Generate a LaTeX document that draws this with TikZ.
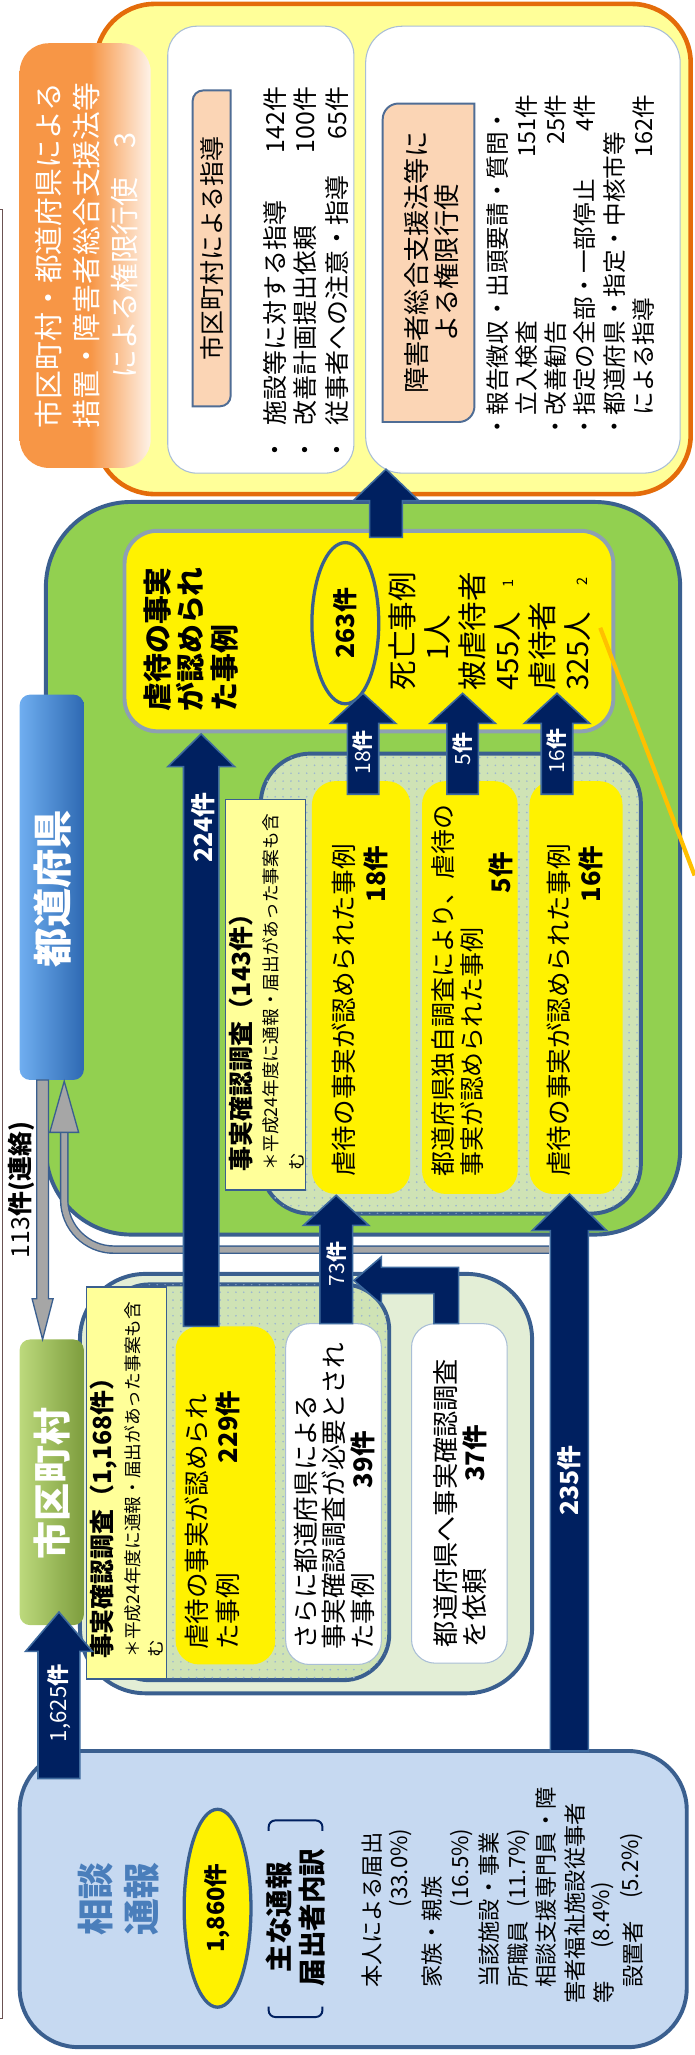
\documentclass[tikz,border=0pt]{standalone}
\usepackage{fontspec}
\setmainfont{Noto Sans CJK JP}
\usetikzlibrary{calc,shapes.geometric,patterns}

\definecolor{navy}{HTML}{002060}
\definecolor{navyedge}{HTML}{3E6A9E}
\definecolor{boxedge}{HTML}{3A5F8F}
\definecolor{caseedge}{HTML}{8DA0B3}
\definecolor{grass}{HTML}{92D050}
\definecolor{paleyel}{HTML}{FFFF99}
\definecolor{sheetgreen}{HTML}{CFE3B5}
\definecolor{dotblue}{HTML}{9CB6CF}
\definecolor{palegreen}{HTML}{E3EED6}
\definecolor{skyfill}{HTML}{C6D9F1}
\definecolor{ttlorange}{HTML}{F79646}
\definecolor{rimorange}{HTML}{E46C0A}
\definecolor{tagpeach}{HTML}{FBD5B5}
\definecolor{tagedge}{HTML}{4F6D95}
\definecolor{softedge}{HTML}{A9BED6}
\definecolor{headblue}{HTML}{4A7EBB}
\definecolor{greyfill}{HTML}{A6A6A6}
\definecolor{amber}{HTML}{FFC000}
\definecolor{framebrown}{HTML}{6B5252}
\definecolor{prefL}{HTML}{6FAEF0}
\definecolor{prefR}{HTML}{2E69B2}
\definecolor{muniL}{HTML}{BCD97C}
\definecolor{muniR}{HTML}{7D9D3D}

\pgfdeclarehorizontalshading{titlefade}{100bp}{color(0bp)=(ttlorange); color(25bp)=(ttlorange); color(52bp)=(ttlorange); color(75bp)=(ttlorange!12!white); color(100bp)=(ttlorange!12!white)}
\pgfdeclarehorizontalshading{prefbarfade}{100bp}{color(0bp)=(prefL); color(25bp)=(prefL); color(75bp)=(prefR); color(100bp)=(prefR)}
\pgfdeclarehorizontalshading{munibarfade}{100bp}{color(0bp)=(muniL); color(25bp)=(muniL); color(75bp)=(muniR); color(100bp)=(muniR)}
\pgfdeclarepatternformonly{sheetdots}{\pgfqpoint{-1pt}{-1pt}}{\pgfqpoint{1pt}{1pt}}{\pgfqpoint{6pt}{6pt}}{\pgfpathcircle{\pgfqpoint{0pt}{0pt}}{0.7pt}\pgfusepath{fill}}

\newcommand{\fz}[2]{\fontsize{#1}{#2}\selectfont}
% block arrow: style, from, to (tip), shaft half, head half, head length
\newcommand{\blockarrow}[6]{%
\draw[#1] let \p1=(#2), \p2=(#3), \p3=($(#3)!#6pt!(#2)$) in
 (\x1-#4pt,\y1) -- (\x1-#4pt,\y3) -- (\x1-#5pt,\y3) -- (\x2,\y2)
 -- (\x1+#5pt,\y3) -- (\x1+#4pt,\y3) -- (\x1+#4pt,\y1) -- cycle;}

\begin{document}
\begin{tikzpicture}[x=1pt,y=-1pt,
 vt/.style={rotate=90,inner sep=0pt},
 panel/.style={rectangle,inner sep=0pt,rounded corners=#1},
 navyarrow/.style={fill=navy,draw=navyedge,line width=1.2pt},
 greyarrow/.style={fill=greyfill,draw=boxedge,line width=1pt},
 bodytxt/.style={vt,font={\fz{19}{22}}},
 listtxt/.style={vt,font={\fz{17}{20}}},
 flowlbl/.style={vt,text=white}]
\useasboundingbox (0,0) rectangle (530,1568);
\draw[framebrown,line width=1.2pt] (0,160) -- (2,160) -- (2,1540) -- (0,1540);

% measures taken by municipalities / prefectures
\node[panel=45pt,fill=paleyel,draw=rimorange,line width=3.5pt,minimum width=454pt,minimum height=374pt] (actBox) at (300,190) {};
\node[panel=22pt,shading=titlefade,minimum width=100pt,minimum height=324pt] (actTitle) at (65,195) {};
\node[vt,align=center,text=white,font={\fz{22}{29}}] (actTtl) at (66,195) {市区町村・都道府県による\\措置・障害者総合支援法等\\による権限行使　3};
\node[panel=22pt,fill=white,draw=softedge,line width=0.8pt,minimum width=142pt,minimum height=341pt] (guideBox) at (199,190.5) {};
\node[panel=28pt,fill=white,draw=softedge,line width=0.8pt,minimum width=240pt,minimum height=341pt] (powerBox) at (399,190.5) {};
\draw[fill=tagpeach,draw=tagedge,line width=1.5pt] (147,69) -- (176,69) [rounded corners=8pt] -- (176,310) [sharp corners] -- (147,310) [rounded corners=8pt] -- cycle;
\node[bodytxt] (guideTag) at (161.5,189.5) {市区町村による指導};
\draw[fill=tagpeach,draw=tagedge,line width=1.5pt] (292,79) -- (362,79) [rounded corners=12pt] -- (362,322) [sharp corners] -- (292,322) [rounded corners=12pt] -- cycle;
\node[vt,align=center,font={\fz{20}{23}}] (powerTag) at (329.5,200.5) {障害者総合支援法等に\\よる権限行使};
\node[bodytxt,anchor=west] (g1) at (210,353) {・\hspace{.5em}施設等に対する指導};
\node[bodytxt,anchor=east] (g1n) at (210,66) {142件};
\node[bodytxt,anchor=west] (g2) at (233,353) {・\hspace{.5em}改善計画提出依頼};
\node[bodytxt,anchor=east] (g2n) at (233,66) {100件};
\node[bodytxt,anchor=west] (g3) at (257,353) {・\hspace{.5em}従事者への注意・指導};
\node[bodytxt,anchor=east] (g3n) at (257,66) {65件};
\node[vt,anchor=west,font={\fz{18}{22}}] (p1) at (380,335) {・報告徴収・出頭要請・質問・};
\node[vt,anchor=west,font={\fz{18}{22}}] (p2) at (402,335) {　立入検査};
\node[vt,anchor=east,font={\fz{18}{22}}] (p2n) at (402,72) {151件};
\node[vt,anchor=west,font={\fz{18}{22}}] (p3) at (424,335) {・改善勧告};
\node[vt,anchor=east,font={\fz{18}{22}}] (p3n) at (424,72) {25件};
\node[vt,anchor=west,font={\fz{18}{22}}] (p4) at (446,335) {・指定の全部・一部停止};
\node[vt,anchor=east,font={\fz{18}{22}}] (p4n) at (446,72) {4件};
\node[vt,anchor=west,font={\fz{18}{22}}] (p5) at (469,335) {・都道府県・指定・中核市等};
\node[vt,anchor=west,font={\fz{18}{22}}] (p6) at (491,335) {　による指導};
\node[vt,anchor=east,font={\fz{18}{22}}] (p6n) at (491,72) {162件};

% prefecture
\node[panel=65pt,fill=grass,draw=boxedge,line width=3pt,minimum width=484pt,minimum height=559pt] (prefBox) at (277,662.5) {};
\node[panel=25pt,fill=yellow,draw=caseedge,line width=3pt,minimum width=373pt,minimum height=153pt] (caseBox) at (281.5,481.5) {};
\node[vt,anchor=west,align=left,font={\bfseries\fz{22}{25.5}}] (caseTxt) at (145.5,543) {虐待の事実\\が認められ\\た事例};
\node[ellipse,vt,draw=boxedge,line width=2.5pt,fill=yellow,minimum width=123pt,minimum height=51pt,font={\bfseries\fz{19}{22}}] (cnt263) at (263.5,475.5) {263件};
\node[vt,anchor=west,align=left,font={\fz{22.5}{26.6}}] (victims) at (373.5,527) {死亡事例\\　1人\\被虐待者\\455人\\虐待者\\325人};
\node[vt,font={\fz{11}{12}}] (fn1) at (388,445.5) {1};
\node[vt,font={\fz{11}{12}}] (fn2) at (444,444) {2};
\node[panel=38pt,fill=sheetgreen,draw=boxedge,line width=3pt,minimum width=290pt,minimum height=351pt,postaction={pattern=sheetdots,pattern color=dotblue}] (surveyPref) at (344,750.5) {};
\node[rectangle,fill=paleyel,draw=boxedge,line width=1.2pt,minimum width=61pt,minimum height=298pt] (prefNote) at (202.5,759) {};
\node[vt,anchor=west,font={\bfseries\fz{19}{22}}] (prefNoteA) at (184,894) {事実確認調査（143件）};
\node[vt,anchor=west,align=left,font={\fz{13.5}{20}}] (prefNoteB) at (216,893) {＊平成24年度に通報・届出があった事案も含\\む};
\node[panel=18pt,fill=yellow,minimum width=75pt,minimum height=315pt] (caseA) at (275.5,753.5) {};
\node[panel=18pt,fill=yellow,minimum width=73pt,minimum height=315pt] (caseB) at (358.5,753.5) {};
\node[panel=18pt,fill=yellow,minimum width=71pt,minimum height=315pt] (caseC) at (439.5,753.5) {};
\node[vt,anchor=west,font={\fz{19.5}{22}}] (caseAtxt) at (262,898) {虐待の事実が認められた事例};
\node[vt,anchor=east,font={\bfseries\fz{19.5}{22}}] (caseAn) at (287,645) {18件};
\node[vt,anchor=west,align=left,font={\fz{19}{22}}] (caseBtxt) at (349,898) {都道府県独自調査により、虐待の\\事実が認められた事例};
\node[vt,anchor=east,font={\bfseries\fz{19.5}{22}}] (caseBn) at (382,650) {5件};
\node[vt,anchor=west,font={\fz{19.5}{22}}] (caseCtxt) at (426,898) {虐待の事実が認められた事例};
\node[vt,anchor=east,font={\bfseries\fz{19.5}{22}}] (caseCn) at (451,645) {16件};

% municipality
\node[panel=50pt,fill=palegreen,draw=boxedge,line width=3pt,minimum width=345pt,minimum height=320pt] (muniBox) at (233.5,1132) {};
\node[panel=35pt,fill=sheetgreen,draw=boxedge,line width=3pt,minimum width=218pt,minimum height=302pt,postaction={pattern=sheetdots,pattern color=dotblue}] (surveyMuni) at (188,1131) {};
\node[rectangle,fill=paleyel,draw=boxedge,line width=1.2pt,minimum width=61pt,minimum height=299pt] (muniNote) at (96.5,1131.5) {};
\node[vt,anchor=west,font={\bfseries\fz{19}{22}}] (muniNoteA) at (79,1266) {事実確認調査（1,168件）};
\node[vt,anchor=west,align=left,font={\fz{13.5}{17.5}}] (muniNoteB) at (109.5,1265) {＊平成24年度に通報・届出があった事案も含\\む};
\node[panel=18pt,fill=yellow,minimum width=76pt,minimum height=258pt] (found229) at (172,1141) {};
\node[panel=18pt,fill=white,draw=softedge,line width=0.8pt,minimum width=73pt,minimum height=260pt] (need39) at (254.5,1140) {};
\node[panel=18pt,fill=white,draw=softedge,line width=0.8pt,minimum width=73pt,minimum height=259pt] (ask37) at (350.5,1139.5) {};
\node[vt,anchor=west,align=left,font={\fz{19.5}{24}}] (found229txt) at (162,1259) {虐待の事実が認められ\\た事例};
\node[vt,anchor=east,font={\bfseries\fz{19.5}{22}}] (found229n) at (174,1061) {229件};
\node[vt,anchor=west,align=left,font={\fz{19.5}{22}}] (need39txt) at (255,1259) {さらに都道府県による\\事実確認調査が必要とされ\\た事例};
\node[vt,anchor=east,font={\bfseries\fz{19.5}{22}}] (need39n) at (277,1092) {39件};
\node[vt,anchor=west,align=left,font={\fz{20}{22}}] (ask37txt) at (351,1257) {都道府県へ事実確認調査\\を依頼};
\node[vt,anchor=east,font={\bfseries\fz{19.5}{22}}] (ask37n) at (362,1087) {37件};

% consultations and reports
\node[panel=45pt,fill=skyfill,draw=boxedge,line width=3pt,minimum width=509pt,minimum height=226pt] (intake) at (269.5,1449) {};
\node[vt,align=center,text=headblue,font={\bfseries\fz{28}{35}}] (intakeTtl) at (90.5,1449) {相談\\通報};
\node[ellipse,vt,draw=boxedge,line width=2.5pt,fill=yellow,minimum width=151pt,minimum height=51pt,font={\bfseries\fz{18}{20}}] (cnt1860) at (166,1456) {1,860件};
\node[vt,align=center,font={\bfseries\fz{21}{25}}] (whoTtl) at (225.5,1463) {主な通報\\届出者内訳};
\draw[navy,line width=1.5pt,rounded corners=5pt] (205,1397) -- (205,1389) -- (246,1389) -- (246,1397);
\draw[navy,line width=1.5pt,rounded corners=5pt] (205,1531) -- (205,1539) -- (246,1539) -- (246,1531);
\node[listtxt,anchor=west] (who1) at (284,1517) {本人による届出};
\node[listtxt,anchor=east] (who1p) at (306,1395) {(33.0\%)};
\node[listtxt,anchor=west] (who2) at (330,1517) {家族・親族};
\node[listtxt,anchor=east] (who2p) at (352,1395) {(16.5\%)};
\node[listtxt,anchor=west] (who3) at (373.5,1517) {当該施設・事業};
\node[listtxt,anchor=west] (who4) at (395.5,1517) {所職員};
\node[listtxt,anchor=east] (who4p) at (395.5,1395) {(11.7\%)};
\node[listtxt,anchor=west] (who5) at (417,1517) {相談支援専門員・障};
\node[listtxt,anchor=west] (who6) at (439,1529) {害者福祉施設従事者};
\node[listtxt,anchor=west] (who7) at (461,1529) {等};
\node[listtxt,anchor=east] (who7p) at (460,1436) {(8.4\%)};
\node[listtxt,anchor=west] (who8) at (483,1517) {設置者};
\node[listtxt,anchor=east] (who8p) at (482,1398) {(5.2\%)};

% title bars
\node[panel=8pt,shading=prefbarfade,minimum width=49pt,minimum height=294pt] (prefBar) at (39.5,677) {};
\node[vt,text=white,font={\bfseries\fz{30}{32}}] (prefBarTxt) at (40,678) {都道府県};
\node[panel=8pt,shading=munibarfade,minimum width=49pt,minimum height=218pt] (muniBar) at (39.5,1131) {};
\node[vt,text=white,font={\bfseries\fz{29}{32}}] (muniBarTxt) at (40,1132) {市区町村};

% grey links between the two bars
\coordinate (dnS) at (32.5,824);
\coordinate (dnE) at (32.5,1022);
\blockarrow{greyarrow}{dnS}{dnE}{4.5}{8}{31}
\node[vt,font={\fz{19}{22}}] (linkLbl) at (16.5,908) {113{\bfseries 件(連絡)}};
\coordinate (rtS) at (419,953.5);
\coordinate (rtE) at (49,864);
\draw[boxedge,line width=6.6pt,rounded corners=38pt] (rtS) -- (49,953.5) -- (rtE);
\draw[greyfill,line width=4.4pt,rounded corners=38pt] (rtS) -- (49,953.5) -- (rtE);
\draw[greyarrow] (38,864) -- (49,825) -- (60,864) -- cycle;

% navy flows
\coordinate (a1625s) at (45,1357);
\coordinate (a1625e) at (45,1230);
\blockarrow{navyarrow}{a1625s}{a1625e}{16}{25.5}{30}
\node[flowlbl,font={\fz{17}{20}}] (a1625l) at (45,1299.5) {1,625{\bfseries 件}};
\coordinate (a235s) at (434.5,1336);
\coordinate (a235e) at (434.5,911);
\blockarrow{navyarrow}{a235s}{a235e}{14.5}{28.5}{28}
\node[flowlbl,font={\bfseries\fz{19}{22}}] (a235l) at (434.5,1129.5) {235件};
\coordinate (a224s) at (153.5,1012);
\coordinate (a224e) at (153.5,560);
\blockarrow{navyarrow}{a224s}{a224e}{13.5}{25.5}{25}
\node[flowlbl,font={\bfseries\fz{19}{22}}] (a224l) at (155,631.5) {224件};
\coordinate (a73s) at (256.5,1010);
\coordinate (a73e) at (256.5,912);
\blockarrow{navyarrow}{a73s}{a73e}{12.5}{25}{23}
\node[flowlbl,font={\fz{16}{18}}] (a73l) at (256.5,964.5) {73{\bfseries 件}};
\coordinate (b37s) at (340.5,1010);
\coordinate (b37tip) at (270,977);
\draw[navyarrow] let \p1=(b37s), \p2=(b37tip) in
 (\x1-9.5pt,\y1) -- (\x1-9.5pt,\y2-10pt) -- (\x2+21pt,\y2-10pt) -- (\x2+21pt,\y2-18pt) -- (\x2,\y2)
 -- (\x2+21pt,\y2+18pt) -- (\x2+21pt,\y2+10pt) -- (\x1+9.5pt,\y2+10pt) -- (\x1+9.5pt,\y1) -- cycle;
\coordinate (a18s) at (277,606);
\coordinate (a18e) at (277,529);
\blockarrow{navyarrow}{a18s}{a18e}{12}{25}{23}
\node[flowlbl,font={\fz{16}{18}}] (a18l) at (277,574) {18{\bfseries 件}};
\coordinate (a5s) at (353,606);
\coordinate (a5e) at (353,529);
\blockarrow{navyarrow}{a5s}{a5e}{12}{25}{23}
\node[flowlbl,font={\fz{16}{18}}] (a5l) at (353,571.5) {5{\bfseries 件}};
\coordinate (a16s) at (425,606);
\coordinate (a16e) at (425,529);
\blockarrow{navyarrow}{a16s}{a16e}{12}{25}{23}
\node[flowlbl,font={\fz{16}{18}}] (a16l) at (425,573) {16{\bfseries 件}};
\coordinate (actS) at (294.5,410);
\coordinate (actE) at (294.5,358);
\blockarrow{navyarrow}{actS}{actE}{12.5}{25}{24}

%pointer line
\coordinate (oS) at (458,479);
\coordinate (oE) at (530,668);
\draw[amber,line width=3.2pt] (oS) -- (oE);
\end{tikzpicture}
\end{document}
